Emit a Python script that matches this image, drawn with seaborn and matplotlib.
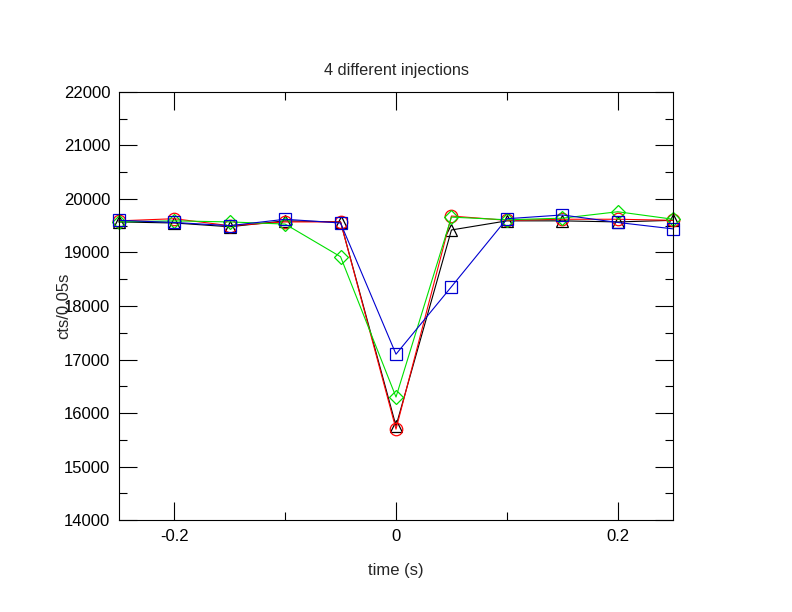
import matplotlib
matplotlib.use("Agg")
import matplotlib.pyplot as plt
import seaborn as sns
import pandas as pd
from matplotlib.ticker import MultipleLocator

# time offsets (s)
time = [-0.25, -0.2, -0.15, -0.1, -0.05, 0.0, 0.05, 0.1, 0.15, 0.2, 0.25]

# counts per 0.05 s for each injection
inj_black = [19570, 19550, 19480, 19590, 19570, 15760, 19420, 19590, 19590, 19570, 19600]
inj_red = [19590, 19630, 19500, 19570, 19570, 15700, 19680, 19600, 19620, 19620, 19600]
inj_green = [19570, 19590, 19570, 19530, 18920, 16300, 19660, 19610, 19640, 19760, 19620]
inj_blue = [19600, 19560, 19500, 19620, 19550, 17100, 18360, 19630, 19700, 19560, 19440]

series = [
    (inj_black, "black", "^"),
    (inj_red, "red", "o"),
    (inj_green, "#00e000", "D"),
    (inj_blue, "#0000d0", "s"),
]

sns.set_style("ticks")
plt.rcParams["font.family"] = ["Liberation Sans", "DejaVu Sans"]

fig = plt.figure(figsize=(7.92, 6.12), dpi=100)
ax = fig.add_axes([0.150, 0.150, 0.700, 0.700])

for vals, col, mk in series:
    df = pd.DataFrame({"t": time, "c": vals})
    sz = 7 if mk == "D" else 9
    sns.lineplot(data=df, x="t", y="c", ax=ax, color=col, marker=mk,
                 markersize=sz, markerfacecolor="none", markeredgecolor=col,
                 markeredgewidth=0.9, linewidth=0.8, legend=False,
                 clip_on=False)

ax.set_xlim(-0.25, 0.25)
ax.set_ylim(14000, 22000)
ax.xaxis.set_major_locator(MultipleLocator(0.2))
ax.xaxis.set_minor_locator(MultipleLocator(0.1))
ax.yaxis.set_major_locator(MultipleLocator(1000))
ax.yaxis.set_minor_locator(MultipleLocator(500))
ax.set_xticks([-0.2, 0.0, 0.2])
ax.set_xticklabels(["-0.2", "0", "0.2"])

ax.tick_params(which="both", direction="in", top=True, right=True,
               labelsize=12, width=0.8, colors="black")
ax.tick_params(which="major", length=13, pad=6)
ax.tick_params(which="minor", length=6)
for s in ax.spines.values():
    s.set_linewidth(0.8)
    s.set_color("black")

ax.set_title("4 different injections", fontsize=11.7, pad=12)
ax.set_xlabel("time (s)", fontsize=12, labelpad=14)
ax.set_ylabel("cts/0.05s", fontsize=12)
ax.yaxis.set_label_coords(-0.085, 0.5)

fig.savefig("out.png", dpi=100)
